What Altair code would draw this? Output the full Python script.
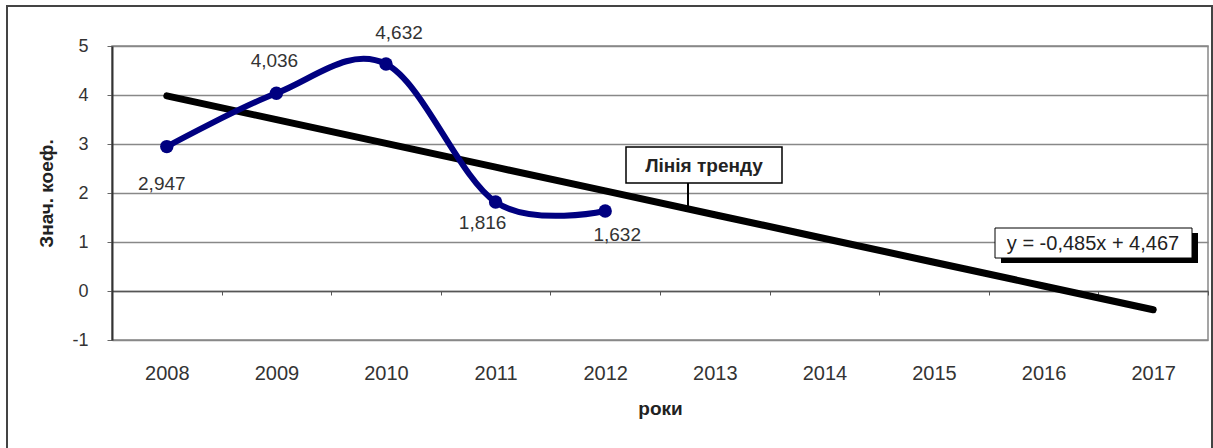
import altair as alt
import pandas as pd

# Categories and observed coefficient values
years = ["2008", "2009", "2010", "2011", "2012", "2013", "2014", "2015", "2016", "2017"]
obs_years = ["2008", "2009", "2010", "2011", "2012"]
coef = [2.947, 4.036, 4.632, 1.816, 1.632]

# Linear trend y = slope * x + intercept, x = 1 for the first year
slope = -0.485
intercept = 4.467
y_ticks = [-1, 0, 1, 2, 3, 4, 5]

FONT = "Liberation Sans"
TEXT = "#333333"


def ua(v):
    return f"{v:.3f}".replace(".", ",")


obs = pd.DataFrame({"year": obs_years, "value": coef, "label": [ua(v) for v in coef]})
trend = pd.DataFrame({
    "year": years,
    "value": [slope * (i + 1) + intercept for i in range(len(years))],
})
eq_text = f"y = {ua(slope)}x  + {ua(intercept)}"

W, H = 1096, 294
zero_lift = H / 6  # distance from the bottom edge up to value 0

x_enc = alt.X(
    "year:O",
    scale=alt.Scale(type="band", domain=years, paddingInner=0, paddingOuter=0),
    bandPosition=0.5,
    axis=alt.Axis(
        title="роки",
        offset=-zero_lift,
        tickBand="extent",
        labelAngle=0,
        labelPadding=68,
        labelFont=FONT,
        labelFontSize=20,
        labelColor=TEXT,
        tickSize=4,
        tickColor="#555555",
        domainColor="#555555",
        domainWidth=1.5,
        grid=False,
        titleFont=FONT,
        titleFontSize=19,
        titleFontWeight="bold",
        titleColor="#222222",
        titleX=W / 2,
        titleY=117,
        titleAlign="center",
        titleBaseline="middle",
    ),
)

y_enc = alt.Y(
    "value:Q",
    scale=alt.Scale(domain=[-1, 5], nice=False, zero=False),
    axis=alt.Axis(
        values=y_ticks,
        labelExpr="'' + datum.value",
        title="Знач. коеф.",
        grid=True,
        gridColor="#888888",
        gridWidth=1.5,
        domainColor="#333333",
        domainWidth=2,
        tickSize=5,
        tickColor="#666666",
        labelPadding=19,
        labelFont=FONT,
        labelFontSize=18,
        labelColor=TEXT,
        titleFont=FONT,
        titleFontSize=19,
        titleFontWeight="bold",
        titleColor="#222222",
        titleAngle=270,
        titleX=-66,
        titleY=H / 2,
        titleAlign="center",
        titleBaseline="middle",
    ),
)

frame = alt.Chart(pd.DataFrame({"k": [0]})).mark_rect(
    fill="transparent", stroke="#444444", strokeWidth=2
).encode(x=alt.value(-105), x2=alt.value(1100), y=alt.value(-40), y2=alt.value(420))

trend_line = alt.Chart(trend).mark_line(
    color="black", strokeWidth=7, strokeCap="round"
).encode(x=x_enc, y=y_enc)

series_line = alt.Chart(obs).mark_line(
    color="#000080", strokeWidth=6, interpolate="cardinal"
).encode(x=x_enc, y=y_enc)

series_pts = alt.Chart(obs).mark_circle(
    color="#000080", size=180, opacity=1
).encode(x=x_enc, y=y_enc)

# per-label offsets around each point
offsets = {"2008": (-5, 37), "2009": (-2, -32), "2010": (13, -31), "2011": (-13, 21), "2012": (12, 24)}
label_layers = [
    alt.Chart(obs).transform_filter(alt.datum.year == yr).mark_text(
        font=FONT, fontSize=19, color=TEXT, dx=dx, dy=dy
    ).encode(x=x_enc, y=y_enc, text="label:N")
    for yr, (dx, dy) in offsets.items()
]

ann = pd.DataFrame({"t": ["Лінія тренду"]})
leader = alt.Chart(ann).mark_rule(color="black", strokeWidth=2).encode(
    x=alt.value(576), y=alt.value(137), y2=alt.value(161)
)
trend_box = alt.Chart(ann).mark_rect(fill="white", stroke="black", strokeWidth=1.5).encode(
    x=alt.value(514), x2=alt.value(670), y=alt.value(101), y2=alt.value(137)
)
trend_txt = alt.Chart(ann).mark_text(
    font=FONT, fontSize=19, fontWeight="bold", color="#222222"
).encode(x=alt.value(592), y=alt.value(120), text="t:N")

eq = pd.DataFrame({"t": [eq_text]})
eq_shadow = alt.Chart(eq).mark_rect(fill="black").encode(
    x=alt.value(889), x2=alt.value(1086), y=alt.value(187), y2=alt.value(217)
)
eq_box = alt.Chart(eq).mark_rect(fill="white", stroke="black", strokeWidth=1).encode(
    x=alt.value(883), x2=alt.value(1080), y=alt.value(182), y2=alt.value(212)
)
eq_txt = alt.Chart(eq).mark_text(font=FONT, fontSize=20, color="#222222").encode(
    x=alt.value(981), y=alt.value(198), text="t:N"
)

chart = alt.layer(
    frame, trend_line, series_line, series_pts, *label_layers,
    leader, trend_box, trend_txt, eq_shadow, eq_box, eq_txt,
).properties(
    width=W,
    height=H,
    padding={"left": 112, "top": 46, "right": 5, "bottom": 108},
    autosize=alt.AutoSizeParams(type="none"),
    background="white",
).configure_view(stroke="#888888", strokeWidth=1.5)

chart.save("out.html", embed_options={"renderer": "svg", "actions": False})
